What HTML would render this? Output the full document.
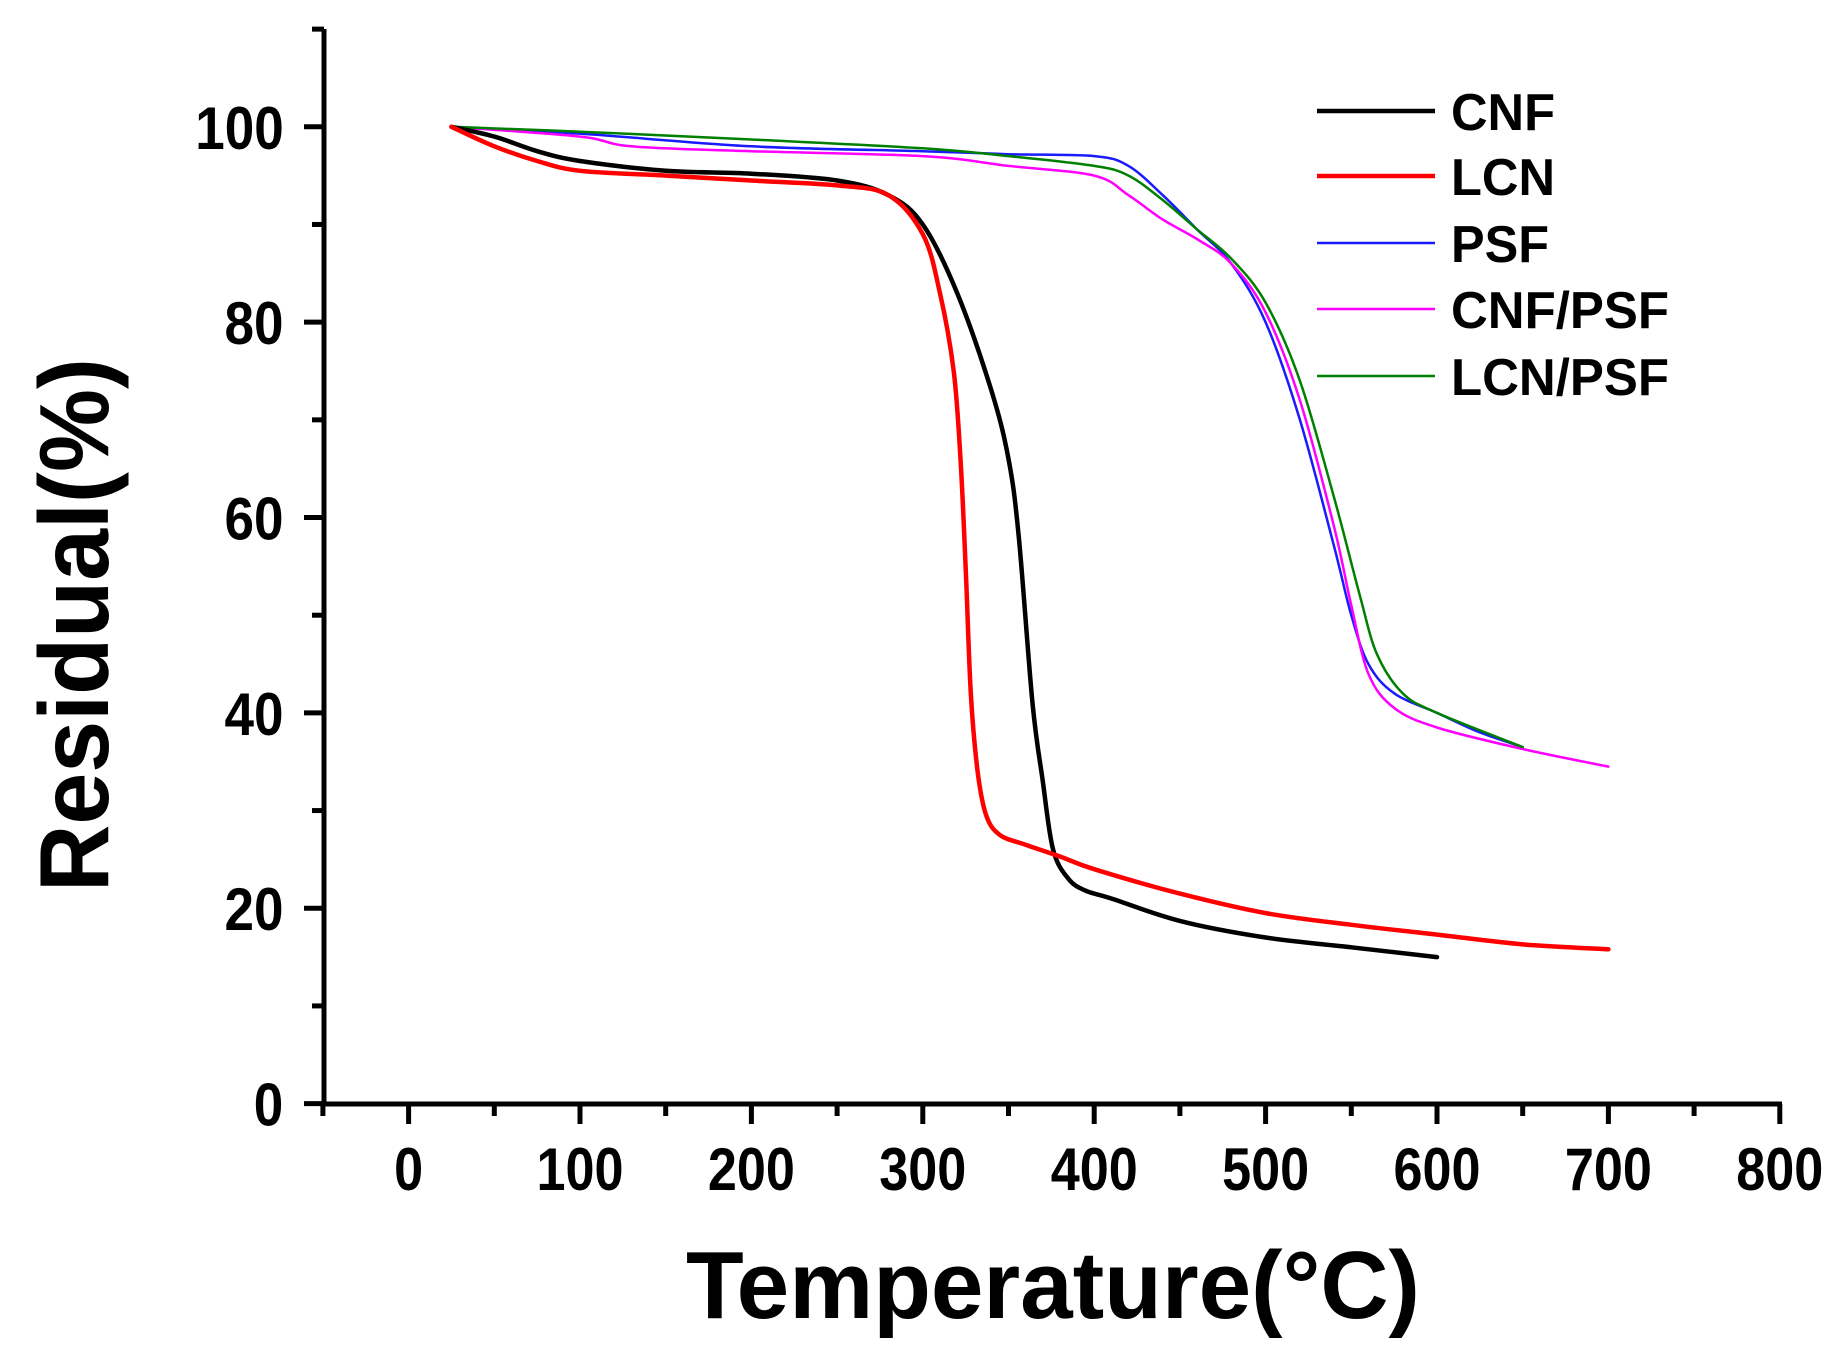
<!DOCTYPE html>
<html><head><meta charset="utf-8"><style>
html,body{margin:0;padding:0;background:#fff}
svg{display:block}
text{font-family:"Liberation Sans",sans-serif;font-weight:bold;fill:#000}
</style></head><body>
<svg id="s" width="1841" height="1350" viewBox="0 0 1841 1350" xmlns="http://www.w3.org/2000/svg">
<g id="ax" stroke="#000" stroke-width="5" fill="none"></g>
<g id="tl" font-size="60" text-anchor="middle"></g>
<g id="curves" fill="none" stroke-linejoin="round" stroke-linecap="round"></g>
<text x="1053" y="1318" font-size="96" text-anchor="middle" textLength="734" lengthAdjust="spacingAndGlyphs">Temperature(°C)</text>
<text transform="translate(108,625) rotate(-90)" font-size="98" text-anchor="middle" textLength="534" lengthAdjust="spacingAndGlyphs">Residual(%)</text>
<g font-size="52">
<line x1="1317" y1="111" x2="1435" y2="111" stroke="#000" stroke-width="4.5"/><text x="1451" y="130" textLength="104" lengthAdjust="spacingAndGlyphs">CNF</text>
<line x1="1317" y1="176" x2="1435" y2="176" stroke="#ff0000" stroke-width="4.5"/><text x="1451" y="195" textLength="104" lengthAdjust="spacingAndGlyphs">LCN</text>
<line x1="1317" y1="243" x2="1435" y2="243" stroke="#1a1aff" stroke-width="2.5"/><text x="1451" y="262" textLength="98" lengthAdjust="spacingAndGlyphs">PSF</text>
<line x1="1317" y1="309" x2="1435" y2="309" stroke="#ff00ff" stroke-width="2.5"/><text x="1451" y="328" textLength="218" lengthAdjust="spacingAndGlyphs">CNF/PSF</text>
<line x1="1317" y1="376" x2="1435" y2="376" stroke="#008000" stroke-width="2.5"/><text x="1451" y="395" textLength="218" lengthAdjust="spacingAndGlyphs">LCN/PSF</text>
</g>
</svg>
<script>
const X=t=>408.6+1.714*t, Y=v=>1103.6-9.768*v;
const ns="http://www.w3.org/2000/svg";
function el(p,tag,a,txt){const e=document.createElementNS(ns,tag);for(const k in a)e.setAttribute(k,a[k]);if(txt!==undefined)e.textContent=txt;p.appendChild(e);return e;}
const ax=document.getElementById('ax'),tl=document.getElementById('tl');
el(ax,'line',{x1:324,y1:29,x2:324,y2:1106});
el(ax,'line',{x1:322,y1:1104,x2:1782,y2:1104});
for(let t=-50;t<=800;t+=50){const maj=t%100===0;el(ax,'line',{x1:X(t),y1:1104,x2:X(t),y2:1104+(maj?20:12)});
 if(maj){const s=String(t);el(tl,'text',{x:X(t),y:1190,textLength:29*s.length,lengthAdjust:'spacingAndGlyphs'},s);}}
for(let v=0;v<=110;v+=10){const maj=v%20===0;el(ax,'line',{x1:324,y1:Y(v),x2:324-(maj?20:12),y2:Y(v)});
 if(maj){const s=String(v);el(tl,'text',{x:283-14.5*s.length,y:Y(v)+22,textLength:29.5*s.length,lengthAdjust:'spacingAndGlyphs'},s);}}
const C=document.getElementById('curves');
function curve(d,col,w){const P=d.map(p=>[X(p[0]),Y(p[1])]);let s='M'+P[0][0].toFixed(1)+','+P[0][1].toFixed(1);
 for(let i=0;i<P.length-1;i++){const p0=P[Math.max(i-1,0)],p1=P[i],p2=P[i+1],p3=P[Math.min(i+2,P.length-1)];
  const c1=[p1[0]+(p2[0]-p0[0])/6,p1[1]+(p2[1]-p0[1])/6],c2=[p2[0]-(p3[0]-p1[0])/6,p2[1]-(p3[1]-p1[1])/6];
  s+=' C'+c1.map(v=>v.toFixed(1)).join(',')+' '+c2.map(v=>v.toFixed(1)).join(',')+' '+p2.map(v=>v.toFixed(1)).join(',');}
 el(C,'path',{d:s,stroke:col,'stroke-width':w});}
curve([[25,100],[100,99.3],[200,98],[300,97.5],[350,97.2],[400,97],[420,96],[440,93],[460,89.5],[480,86],[500,80],[520,70],[540,57],[550,50],[560,45],[575,42],[600,40],[625,38],[650,36.5]],'#1a1aff',2.5);
curve([[25,100],[100,99],[130,98],[200,97.5],[300,97],[350,96],[400,95],[420,93],[440,90.5],[460,88.5],[480,86],[500,81],[520,72],[540,59],[550,51],[560,44],[575,40.5],[600,38.5],[650,36.3],[700,34.5]],'#ff00ff',2.5);
curve([[25,100],[100,99.5],[200,98.7],[300,97.8],[350,97],[400,96],[420,95],[440,92.5],[460,89.5],[480,86.5],[500,82],[520,74],[540,62],[555,52],[565,46],[580,42],[600,40],[650,36.5]],'#008000',2.5);
curve([[25,100],[50,99],[75,97.5],[100,96.5],[150,95.5],[200,95.2],[250,94.5],[280,93],[300,90],[320,83],[340,73],[350,66],[356,58],[364,41],[370,33],[376,26],[385,23],[395,21.8],[410,21],[450,18.7],[500,17],[550,16],[600,15]],'#000',4.5);
curve([[25,100],[50,98],[75,96.5],[100,95.5],[150,95],[200,94.5],[250,94],[280,93],[300,89],[310,83],[318,75],[322,66],[325,55],[328,42],[332,34],[337,29.5],[345,27.5],[360,26.5],[380,25.3],[400,24],[450,21.5],[500,19.5],[550,18.3],[600,17.3],[650,16.3],[700,15.8]],'#ff0000',4.5);
</script>
</body></html>
